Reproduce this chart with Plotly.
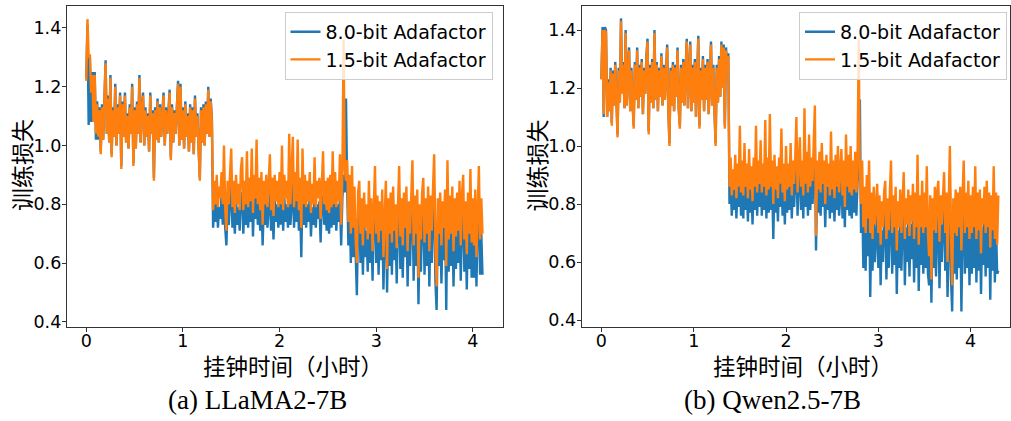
import numpy as np
import plotly.graph_objects as go

# Training-loss curves sampled every 0.0125 wall-clock hours (values are loss x 100),
# one row per quarter hour.
HOUR_STEP = 0.0125

llama_8bit = [
    123, 141, 107, 130, 108, 125, 108, 125, 102, 115, 102, 113, 98, 114, 102, 116, 129, 104, 117, 101,
    124, 97, 113, 103, 121, 100, 114, 104, 118, 93, 115, 103, 118, 101, 111, 99, 114, 104, 121, 94,
    113, 99, 115, 104, 124, 101, 114, 118, 100, 113, 103, 111, 98, 118, 104, 112, 89, 113, 102, 116,
    101, 114, 103, 111, 118, 100, 113, 104, 110, 119, 96, 114, 101, 112, 104, 114, 122, 100, 121, 102,
    113, 99, 115, 103, 111, 98, 114, 101, 113, 97, 117, 103, 111, 99, 89, 113, 101, 114, 100, 115,
    104, 120, 103, 116, 109, 72, 80, 74, 82, 72, 79, 75, 83, 73, 88, 72, 66, 80, 73, 82,
    86, 72, 80, 70, 82, 73, 79, 71, 83, 84, 70, 80, 73, 85, 72, 81, 74, 86, 69, 82,
    75, 88, 73, 81, 71, 83, 66, 80, 73, 82, 72, 79, 84, 71, 81, 68, 82, 74, 80, 72,
    83, 73, 86, 71, 82, 74, 80, 72, 88, 73, 81, 87, 72, 83, 74, 86, 71, 81, 62, 84,
    73, 82, 72, 80, 74, 83, 69, 79, 73, 82, 72, 80, 75, 81, 67, 82, 83, 73, 80, 71,
    81, 70, 82, 72, 83, 73, 82, 71, 80, 74, 82, 66, 82, 90, 84, 116, 85, 66, 81, 60,
    84, 62, 77, 58, 49, 75, 79, 60, 73, 56, 75, 62, 71, 57, 79, 60, 73, 54, 76, 83,
    60, 74, 56, 72, 61, 76, 51, 71, 79, 50, 73, 59, 75, 56, 77, 61, 71, 53, 75, 82,
    58, 73, 55, 75, 62, 77, 52, 72, 59, 75, 84, 54, 74, 59, 76, 46, 71, 57, 75, 79,
    56, 73, 59, 77, 52, 74, 60, 76, 85, 54, 44, 73, 59, 75, 53, 72, 61, 76, 44, 83,
    57, 74, 59, 77, 52, 73, 58, 75, 60, 78, 54, 74, 79, 57, 72, 51, 75, 58, 80, 55,
    73, 55, 76, 52, 75, 80, 56, 70, 56,
]
llama_15bit = [
    122, 143, 130, 131, 118, 124, 108, 124, 104, 114, 103, 112, 97, 113, 102, 115, 128, 104, 116, 101,
    123, 96, 112, 103, 120, 100, 113, 104, 117, 92, 114, 103, 117, 101, 110, 99, 113, 104, 120, 93,
    112, 99, 114, 104, 123, 101, 113, 117, 100, 112, 103, 110, 98, 117, 104, 111, 88, 112, 102, 115,
    101, 113, 103, 110, 117, 100, 112, 104, 109, 118, 95, 113, 101, 111, 104, 113, 121, 100, 120, 102,
    112, 99, 114, 103, 110, 98, 113, 101, 112, 97, 116, 103, 110, 99, 88, 112, 101, 113, 100, 114,
    104, 119, 103, 115, 108, 78, 88, 80, 90, 79, 86, 82, 91, 80, 100, 79, 71, 88, 80, 90,
    99, 79, 88, 77, 90, 80, 87, 78, 92, 96, 78, 88, 80, 98, 79, 89, 81, 99, 77, 90,
    82, 102, 80, 89, 78, 91, 73, 88, 80, 90, 79, 87, 97, 78, 89, 76, 90, 81, 88, 79,
    91, 80, 100, 78, 90, 82, 88, 79, 104, 80, 89, 103, 79, 91, 81, 102, 78, 89, 72, 99,
    80, 90, 79, 88, 81, 91, 77, 87, 80, 96, 79, 88, 82, 89, 75, 90, 98, 80, 88, 78,
    89, 77, 90, 79, 98, 80, 91, 79, 88, 81, 97, 73, 90, 136, 92, 88, 95, 74, 90, 70,
    93, 72, 86, 68, 60, 84, 88, 70, 82, 66, 84, 72, 80, 68, 88, 70, 82, 64, 85, 93,
    70, 83, 67, 81, 71, 85, 62, 80, 88, 58, 82, 70, 84, 67, 86, 71, 80, 65, 84, 93,
    69, 82, 66, 84, 72, 86, 64, 81, 70, 84, 95, 66, 83, 70, 85, 55, 80, 68, 84, 89,
    67, 82, 70, 86, 64, 83, 71, 85, 97, 66, 52, 82, 70, 84, 66, 81, 72, 85, 59, 95,
    68, 83, 70, 86, 64, 82, 69, 84, 71, 88, 66, 83, 90, 68, 81, 63, 84, 70, 92, 67,
    82, 66, 85, 62, 84, 93, 68, 82, 70,
]
qwen_8bit = [
    123, 141, 110, 141, 140, 110, 123, 112, 127, 108, 126, 114, 129, 112, 104, 127, 115, 144, 119, 129,
    113, 140, 114, 128, 134, 112, 127, 115, 107, 129, 116, 134, 113, 128, 117, 130, 111, 127, 118, 131,
    137, 105, 128, 115, 130, 113, 140, 116, 129, 112, 127, 117, 132, 114, 128, 116, 130, 135, 113, 101,
    127, 114, 129, 112, 128, 117, 134, 113, 107, 128, 115, 130, 114, 128, 137, 113, 129, 136, 112, 128,
    115, 130, 110, 129, 138, 107, 127, 116, 131, 112, 128, 116, 130, 111, 129, 136, 114, 128, 112, 101,
    128, 115, 131, 117, 136, 121, 135, 107, 134, 127, 132, 80, 88, 76, 85, 78, 89, 75, 86, 79,
    95, 76, 87, 75, 91, 78, 86, 74, 89, 77, 85, 73, 88, 78, 95, 76, 87, 79, 92, 76,
    86, 78, 97, 75, 88, 77, 99, 78, 87, 68, 89, 77, 85, 74, 88, 79, 94, 76, 86, 73,
    90, 77, 86, 78, 91, 75, 87, 79, 88, 97, 76, 89, 92, 78, 87, 75, 99, 79, 90, 76,
    93, 78, 88, 80, 90, 100, 64, 87, 77, 89, 76, 91, 79, 87, 72, 88, 78, 86, 75, 94,
    77, 87, 74, 88, 78, 90, 76, 85, 89, 75, 87, 72, 93, 78, 88, 76, 90, 75, 87, 77,
    89, 76, 88, 90, 116, 70, 84, 58, 76, 57, 80, 62, 84, 48, 74, 57, 76, 60, 72, 77,
    58, 73, 52, 71, 60, 74, 77, 54, 72, 58, 74, 82, 56, 73, 59, 76, 49, 71, 58, 75,
    57, 74, 79, 52, 72, 60, 75, 55, 73, 61, 77, 53, 74, 58, 84, 50, 73, 59, 77, 56,
    74, 58, 80, 56, 52, 73, 46, 72, 58, 76, 55, 74, 77, 51, 73, 60, 75, 78, 57, 74,
    48, 73, 86, 54, 43, 72, 56, 75, 54, 74, 58, 76, 43, 73, 82, 56, 74, 58, 77, 52,
    73, 56, 76, 58, 80, 53, 74, 57, 75, 49, 72, 59, 76, 55, 77, 58, 74, 47, 73, 57,
    79, 53, 72, 56, 57,
]
qwen_15bit = [
    123, 140, 111, 140, 139, 110, 122, 112, 126, 107, 125, 114, 128, 112, 103, 126, 115, 143, 118, 128,
    113, 139, 114, 127, 133, 112, 126, 115, 106, 128, 116, 133, 113, 127, 117, 129, 111, 126, 118, 130,
    136, 104, 127, 115, 129, 113, 139, 116, 128, 112, 126, 117, 131, 114, 127, 116, 129, 134, 113, 100,
    126, 114, 128, 112, 127, 117, 133, 113, 106, 127, 115, 129, 114, 127, 136, 113, 128, 135, 112, 127,
    115, 129, 110, 128, 137, 106, 126, 116, 130, 112, 127, 116, 129, 111, 128, 135, 114, 127, 112, 100,
    127, 115, 130, 117, 135, 120, 134, 106, 133, 126, 131, 86, 96, 83, 92, 85, 97, 82, 94, 86,
    107, 84, 95, 83, 101, 86, 94, 82, 99, 85, 93, 81, 96, 86, 107, 84, 95, 87, 102, 84,
    94, 86, 109, 83, 96, 85, 111, 86, 95, 80, 97, 85, 93, 82, 96, 87, 106, 84, 94, 81,
    100, 85, 94, 86, 101, 83, 95, 87, 96, 110, 84, 97, 103, 86, 95, 83, 113, 87, 98, 84,
    104, 86, 96, 88, 99, 114, 69, 95, 85, 98, 84, 101, 87, 95, 80, 97, 86, 94, 83, 105,
    85, 95, 82, 97, 86, 100, 84, 93, 99, 83, 95, 79, 104, 86, 97, 84, 100, 83, 95, 85,
    98, 84, 96, 137, 88, 80, 95, 72, 86, 70, 90, 75, 95, 70, 84, 68, 86, 73, 82, 87,
    70, 83, 66, 81, 72, 84, 88, 68, 82, 71, 84, 95, 70, 83, 72, 86, 64, 81, 72, 85,
    70, 84, 91, 68, 82, 73, 85, 69, 83, 74, 87, 68, 84, 72, 97, 66, 83, 72, 88, 70,
    84, 72, 93, 70, 62, 83, 54, 82, 71, 86, 70, 84, 88, 67, 83, 73, 85, 91, 70, 84,
    60, 83, 100, 69, 52, 82, 70, 85, 69, 84, 72, 86, 64, 83, 95, 70, 84, 72, 88, 68,
    83, 70, 86, 72, 93, 68, 84, 71, 85, 63, 82, 73, 86, 70, 88, 72, 84, 65, 83, 71,
    93, 68, 84, 66, 83,
]

series_names = ["8.0-bit Adafactor", "1.5-bit Adafactor"]
series_colors = ["#1f77b4", "#ff7f0e"]
panel_captions = ["(a) LLaMA2-7B", "(b) Qwen2.5-7B"]
x_ticks = [0, 1, 2, 3, 4]
y_ticks = [0.4, 0.6, 0.8, 1.0, 1.2, 1.4]
x_title = "挂钟时间（小时）"
y_title = "训练损失"


def to_loss(values):
    return np.asarray(values, dtype=float) / 100.0


def hours_for(values):
    return np.arange(len(values)) * HOUR_STEP


W, H = 1011, 421
fig = go.Figure()

panels = [
    ("x", "y", "legend", [llama_8bit, llama_15bit]),
    ("x2", "y2", "legend2", [qwen_8bit, qwen_15bit]),
]
for xa, ya, leg, curves in panels:
    for vals, name, color in zip(curves, series_names, series_colors):
        fig.add_trace(go.Scatter(
            x=hours_for(vals), y=to_loss(vals), mode="lines", name=name,
            line=dict(color=color, width=2.4), xaxis=xa, yaxis=ya, legend=leg,
        ))

tick_font = dict(family="DejaVu Sans", size=17.5, color="#000")
axis_common = dict(
    showline=True, linecolor="#333", linewidth=1.2, mirror=True,
    ticks="outside", ticklen=4, tickwidth=1.2, tickcolor="#333",
    showgrid=False, zeroline=False, tickfont=tick_font,
)


def px_x(p):
    return p / W


def px_y(p):
    return 1 - p / H


y_dom = [px_y(331), px_y(5.7)]
fig.update_layout(
    width=W, height=H, margin=dict(l=0, r=0, t=0, b=0),
    paper_bgcolor="white", plot_bgcolor="white",
    xaxis=dict(domain=[px_x(67), px_x(503)], range=[-0.2, 4.307], tickvals=x_ticks,
               anchor="y", ticklabelstandoff=-6, **axis_common),
    yaxis=dict(domain=y_dom, range=[0.382, 1.476], tickvals=y_ticks, tickformat=".1f",
               anchor="x", ticklabelstandoff=-3, **axis_common),
    xaxis2=dict(domain=[px_x(582.3), px_x(1010.5)], range=[-0.213, 4.421], tickvals=x_ticks,
                anchor="y2", ticklabelstandoff=-6, **axis_common),
    yaxis2=dict(domain=y_dom, range=[0.376, 1.484], tickvals=y_ticks, tickformat=".1f",
                anchor="x2", ticklabelstandoff=-3, **axis_common),
)

legend_common = dict(
    bgcolor="rgba(255,255,255,0.8)", bordercolor="#cccccc", borderwidth=1,
    font=dict(family="DejaVu Sans", size=19, color="#000"),
    xanchor="right", yanchor="top", y=px_y(12), tracegroupgap=0,
)
fig.update_layout(
    legend=dict(x=px_x(493), **legend_common),
    legend2=dict(x=px_x(1008), **legend_common),
)

cjk = "Noto Sans CJK SC"
annotations = []
for cx_title, cx_ylab, cx_cap, caption in [
    (293, 21, 258, panel_captions[0]),
    (804, 537, 773, panel_captions[1]),
]:
    annotations.append(dict(
        text=x_title, x=px_x(cx_title), y=px_y(369), xref="paper", yref="paper",
        showarrow=False, xanchor="center", yanchor="middle",
        font=dict(family=cjk, size=22.5, color="#000"),
    ))
    annotations.append(dict(
        text=y_title, x=px_x(cx_ylab), y=px_y(167), xref="paper", yref="paper",
        showarrow=False, xanchor="center", yanchor="middle", textangle=-90,
        font=dict(family=cjk, size=23, color="#000"),
    ))
    annotations.append(dict(
        text=caption, x=px_x(cx_cap), y=px_y(405), xref="paper", yref="paper",
        showarrow=False, xanchor="center", yanchor="middle",
        font=dict(family="Liberation Serif, Times New Roman, serif", size=27, color="#000"),
    ))
fig.update_layout(annotations=annotations)

fig.write_html("out.html")
